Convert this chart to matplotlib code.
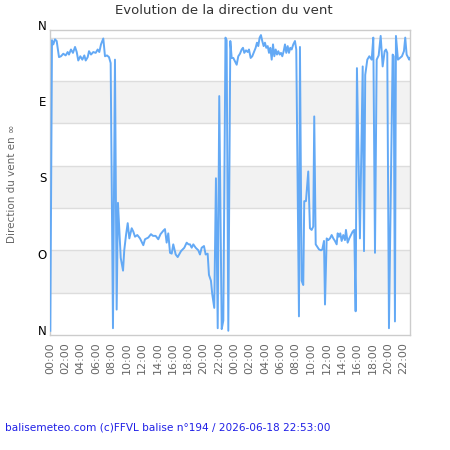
import matplotlib
matplotlib.use("Agg")
import matplotlib.pyplot as plt
from matplotlib.transforms import ScaledTranslation

# heures depuis minuit du premier jour, direction en degres
hours = [0.04, 0.26, 0.43, 0.65, 0.87, 1.17, 1.43, 1.73, 2.04, 2.30,
         2.47, 2.73, 2.99, 3.26, 3.48, 3.68, 3.95, 4.21, 4.47, 4.65,
         4.91, 5.08, 5.34, 5.64, 5.95, 6.21, 6.42, 6.64, 6.94, 7.16,
         7.42, 7.68, 7.90, 8.20, 8.46, 8.68, 8.85, 9.21, 9.51, 9.67,
         9.90, 10.12, 10.33, 10.64, 10.85, 11.07, 11.37, 11.72, 12.15, 12.37,
         12.80, 13.15, 13.41, 13.76, 14.10, 14.39, 14.75, 14.97, 15.19, 15.40,
         15.63, 15.85, 16.05, 16.37, 16.63, 17.06, 17.49, 17.80, 18.03, 18.23,
         18.45, 18.66, 18.97, 19.31, 19.53, 19.75, 20.05, 20.27, 20.53, 20.70,
         20.96, 21.13, 21.39, 21.61, 21.84, 22.04, 22.36, 22.57, 22.85, 23.00,
         23.22, 23.48, 23.66, 23.87, 24.09, 24.31, 24.52, 24.74, 24.96, 25.13,
         25.30, 25.52, 25.74, 25.91, 26.13, 26.34, 26.60, 26.78, 26.95, 27.12,
         27.30, 27.47, 27.64, 27.82, 27.99, 28.16, 28.35, 28.52, 28.69, 28.87,
         29.04, 29.21, 29.39, 29.56, 29.73, 29.91, 30.08, 30.25, 30.43, 30.60,
         30.77, 30.95, 31.12, 31.29, 31.47, 31.68, 31.90, 32.07, 32.42, 32.55,
         32.77, 32.98, 33.11, 33.33, 33.63, 33.85, 34.07, 34.28, 34.41, 34.60,
         34.81, 35.03, 35.29, 35.46, 35.68, 35.81, 36.03, 36.24, 36.46, 36.68,
         36.89, 37.11, 37.33, 37.46, 37.63, 37.80, 37.98, 38.19, 38.41, 38.54,
         38.76, 38.97, 39.19, 39.41, 39.62, 39.80, 39.97, 40.36, 40.72, 40.89,
         41.05, 41.32, 41.58, 41.89, 42.10, 42.32, 42.54, 42.80, 43.06, 43.32,
         43.58, 43.75, 43.92, 44.14, 44.62, 44.75, 44.92, 45.05, 45.31, 45.57,
         45.83, 46.09, 46.26, 46.44, 46.78, 46.88]

direction = [5, 348, 343, 349, 347, 328, 329, 332, 330, 334,
             331, 337, 333, 340, 334, 324, 329, 325, 330, 324,
             328, 335, 331, 334, 333, 337, 334, 343, 350, 329,
             330, 328, 321, 8, 325, 30, 156, 91, 76, 100,
             118, 132, 114, 126, 122, 116, 118, 114, 106, 113,
             115, 119, 117, 117, 113, 119, 123, 125, 109, 120,
             97, 96, 107, 95, 92, 99, 103, 109, 107, 107,
             103, 107, 103, 100, 95, 103, 105, 95, 96, 71,
             64, 48, 32, 185, 8, 282, 7, 17, 351, 348,
             5, 347, 327, 327, 323, 319, 329, 332, 337, 339,
             333, 336, 334, 337, 327, 329, 335, 339, 345, 341,
             351, 354, 347, 341, 345, 339, 341, 333, 339, 325,
             343, 329, 337, 331, 335, 331, 333, 329, 335, 343,
             333, 341, 333, 339, 337, 343, 347, 337, 22, 340,
             64, 59, 158, 158, 193, 126, 124, 128, 258, 107,
             104, 101, 100, 101, 111, 36, 114, 112, 114, 118,
             114, 111, 107, 120, 116, 120, 111, 118, 112, 124,
             109, 114, 118, 122, 124, 28, 315, 114, 317, 99,
             307, 325, 329, 325, 351, 97, 325, 330, 353, 317,
             335, 337, 333, 8, 331, 329, 16, 353, 325, 327,
             329, 335, 351, 331, 325, 327]

y_ticks = [0, 90, 180, 270, 360]
y_labels = ["N", "O", "S", "E", "N"]
x_ticks = list(range(0, 47, 2))
x_labels = ["%02d:00" % (h % 24) for h in x_ticks]

fig = plt.figure(figsize=(4.5, 4.5), dpi=100)
ax = fig.add_axes([50 / 450, 1 - 335 / 450, 360 / 450, 305 / 450])

# bandes alternees + grille
for lo in (50, 150, 250):
    ax.axhspan(lo, lo + 50, color="#f2f2f2", lw=0, zorder=0)
for v in range(50, 360, 50):
    ax.axhline(v, color="#dddddd", lw=1, zorder=1)

ax.plot(hours, direction, color="#63a9f5", lw=1.4, zorder=3)

ax.set_xlim(0, 46.88)
ax.set_ylim(0, 360)

ax.set_yticks(y_ticks)
ax.set_yticklabels(y_labels, fontsize=8.5, color="black")
ax.tick_params(axis="y", length=0, pad=2.5)
shift = ScaledTranslation(0, 5 / 100, fig.dpi_scale_trans)
for lab in ax.get_yticklabels():
    lab.set_transform(lab.get_transform() + shift)

ax.set_xticks(x_ticks)
ax.set_xticklabels(x_labels, rotation=90, fontsize=8, color="#666666")
ax.tick_params(axis="x", length=0, pad=5)

for s in ax.spines.values():
    s.set_color("#cccccc")
    s.set_linewidth(1)

fig.text(224 / 450, 1 - 11 / 450, "Evolution de la direction du vent",
         ha="center", va="center", fontsize=9.5, color="#333333")
fig.text(12 / 450, 1 - 184 / 450, "Direction du vent en ∞", rotation=90,
         ha="center", va="center", fontsize=7.5, color="#666666")
fig.text(5 / 450, 1 - 428 / 450,
         "balisemeteo.com (c)FFVL balise n°194 / 2026-06-18 22:53:00",
         ha="left", va="center", fontsize=7.6, color="#1f1fe6")

fig.savefig("out.png", dpi=100)
